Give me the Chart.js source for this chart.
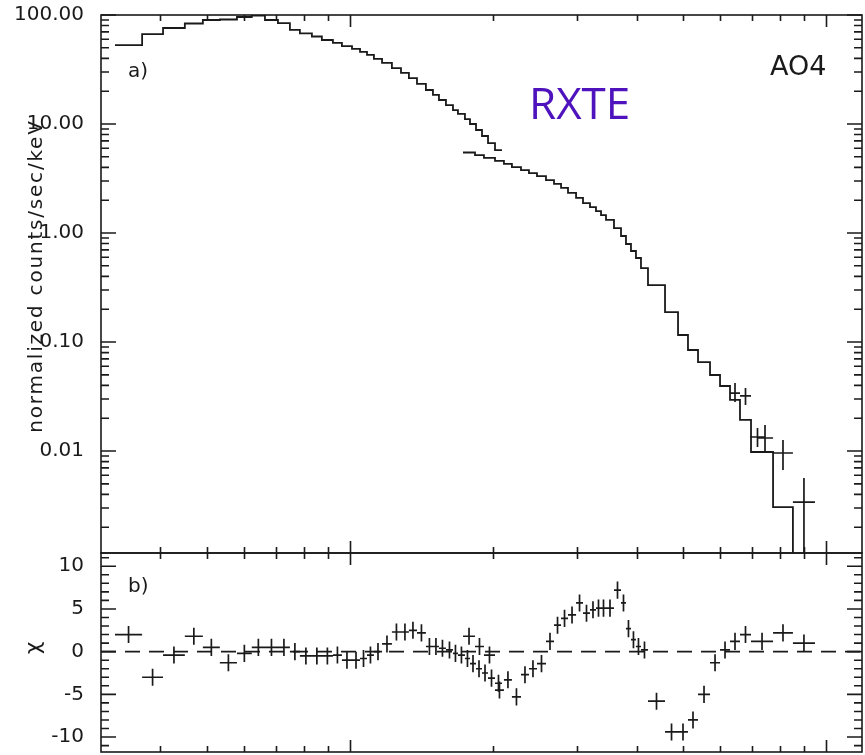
<!DOCTYPE html>
<html>
<head>
<meta charset="utf-8">
<script src="https://cdn.jsdelivr.net/npm/chart.js@4.4.1/dist/chart.umd.min.js"></script>
<style>
  html, body { margin: 0; padding: 0; background: #fff; }
  #wrap { position: relative; width: 865px; height: 755px; overflow: hidden; }
  #wrap canvas { position: absolute; left: 0; }
  #spectrum { top: 0; }
  #resid { top: 545px; }
</style>
</head>
<body>
<div id="wrap">
  <canvas id="spectrum" width="865" height="560"></canvas>
  <canvas id="resid" width="865" height="210"></canvas>
</div>
<script>
// PCA folded spectrum: bin edges (keV), normalized counts/s/keV, residuals (chi)
const pcaEdges = [3.21, 3.66, 4.05, 4.50, 4.91, 5.33, 5.79, 6.22, 6.63, 7.06,
  7.48, 7.85, 8.32, 8.73, 9.21, 9.62, 10.10, 10.50, 10.86, 11.23,
  11.68, 12.25, 12.80, 13.30, 13.83, 14.44, 14.94, 15.38, 15.91, 16.46,
  16.86, 17.44, 17.87, 18.40, 18.94, 19.50, 20.17, 20.86];
const pcaCounts = [53.0, 66.9, 76.0, 83.6, 90.0, 90.9, 95.9, 99.0, 90.0, 84.4,
  72.9, 67.7, 63.5, 59.0, 55.4, 51.9, 48.8, 45.8, 43.0, 39.5,
  36.3, 32.6, 29.4, 26.4, 23.3, 20.5, 18.5, 16.6, 14.9, 13.4,
  12.4, 11.1, 10.0, 8.81, 7.76, 6.69, 5.77];
const pcaChi = [2.0, -3.0, -0.4, 1.8, 0.5, -1.3, -0.2, 0.5, 0.5, 0.5,
  0.0, -0.5, -0.5, -0.5, -0.4, -1.0, -1.0, -0.8, -0.4, 0.0,
  0.9, 2.3, 2.3, 2.5, 2.2, 0.6, 0.6, 0.4, 0.2, -0.2,
  -0.4, -0.8, -1.4, -2.0, -2.5, -3.1, -3.7];

// HEXTE folded spectrum
const hexteEdges = [17.28, 18.31, 19.12, 20.17, 21.06, 21.89, 22.87, 23.77, 24.71, 25.81,
  26.83, 27.76, 28.71, 29.85, 30.87, 31.93, 32.87, 33.68, 34.50, 35.86,
  37.10, 38.00, 38.93, 39.88, 40.86, 42.27, 45.90, 48.88, 51.29, 53.84,
  57.06, 59.89, 62.85, 65.96, 69.57, 77.4, 85.2, 94.8];
const hexteCounts = [5.48, 5.19, 4.88, 4.58, 4.30, 4.03, 3.78, 3.55, 3.33, 3.06,
  2.82, 2.59, 2.33, 2.10, 1.88, 1.73, 1.59, 1.46, 1.32, 1.11,
  0.939, 0.793, 0.684, 0.590, 0.477, 0.333, 0.188, 0.116, 0.0845, 0.0655,
  0.0498, 0.0395, 0.0294, 0.0193, 0.0098, 0.00306, 0.0003];
const hexteChi = [1.8, 0.6, -0.4, -4.5, -3.3, -5.3, -2.7, -2.0, -1.4, 1.2,
  3.1, 3.9, 4.3, 5.7, 4.5, 4.9, 5.1, 5.1, 5.1, 7.2,
  5.7, 2.7, 1.4, 0.6, 0.2, -5.8, -9.4, -9.4, -8.0, -5.0,
  -1.3, 0.2, 1.2, 2.0, 1.2, 2.2, 1.0];

// HEXTE data points shown above the model at the high-energy end
const hxLoE = [62.85, 65.96, 69.23, 71.6, 77.4, 85.2];
const hxHiE = [65.96, 69.57, 74.44, 77.4, 85.2, 94.8];
const hxVal = [0.0340, 0.0320, 0.01344, 0.01316, 0.00959, 0.00340];
const hxErrLo = [0.0282, 0.0264, 0.01089, 0.00979, 0.00669, 0.0002];
const hxErrHi = [0.0421, 0.0378, 0.01625, 0.01732, 0.01262, 0.00565];

// axis ticks
const energyMajor = [10, 100];
const energyMinor = [4, 5, 6, 7, 8, 9, 20, 30, 40, 50, 60, 70, 80, 90];
const countMajor = [0.01, 0.1, 1, 10, 100];
const chiMajor = [-10, -5, 0, 5, 10];

const countMinor = [];
[0.001, 0.01, 0.1, 1, 10].forEach(d => {
  for (let m = 2; m <= 9; m++) countMinor.push(d * m);
});
const chiMinor = [];
for (let v = -11; v <= 11; v++) if (v % 5 !== 0) chiMinor.push(v);

const INK = '#1a1a1a';
const FONT = 'DejaVu Sans';

function stepPoints(edges, counts) {
  const pts = counts.map((c, i) => ({ x: edges[i], y: c }));
  pts.push({ x: edges[edges.length - 1], y: counts[counts.length - 1] });
  return pts;
}

function chiCrosses(edges, chi) {
  return chi.map((c, i) => ({
    x: Math.sqrt(edges[i] * edges[i + 1]), y: c,
    xMin: edges[i], xMax: edges[i + 1], yMin: c - 1, yMax: c + 1
  }));
}

const hexteData = hxVal.map((v, i) => ({
  x: Math.sqrt(hxLoE[i] * hxHiE[i]), y: v,
  xMin: hxLoE[i], xMax: hxHiE[i], yMin: hxErrLo[i], yMax: hxErrHi[i]
}));

// box round the plot area with inward ticks on all four sides
const frame = {
  id: 'frame',
  afterDatasetsDraw(chart, args, opts) {
    const { ctx, chartArea: a, scales: { x, y } } = chart;
    ctx.save();
    ctx.strokeStyle = INK;
    ctx.lineWidth = 1.6;
    ctx.strokeRect(a.left, a.top, a.width, a.height);
    ctx.beginPath();
    [[energyMajor, 12], [energyMinor, 6]].forEach(([vals, len]) => {
      vals.forEach(v => {
        const px = Math.round(x.getPixelForValue(v)) + 0.5;
        ctx.moveTo(px, a.top); ctx.lineTo(px, a.top + len);
        ctx.moveTo(px, a.bottom); ctx.lineTo(px, a.bottom - len);
      });
    });
    [[opts.yMajor, 15], [opts.yMinor, 8]].forEach(([vals, len]) => {
      vals.forEach(v => {
        const py = y.getPixelForValue(v);
        if (py < a.top - 1 || py > a.bottom + 1) return;
        ctx.moveTo(a.left, py); ctx.lineTo(a.left + len, py);
        ctx.moveTo(a.right, py); ctx.lineTo(a.right - len, py);
      });
    });
    ctx.stroke();
    ctx.restore();
  }
};

// horizontal (bin width) and vertical (1 sigma) bars
const errorBars = {
  id: 'errorBars',
  afterDatasetsDraw(chart) {
    const { ctx, chartArea: a, scales: { x, y } } = chart;
    ctx.save();
    ctx.beginPath();
    ctx.rect(a.left, a.top, a.width, a.height);
    ctx.clip();
    ctx.strokeStyle = INK;
    ctx.lineWidth = 1.7;
    chart.data.datasets.forEach(ds => {
      if (!ds.errorBars) return;
      ctx.beginPath();
      ds.data.forEach(p => {
        const cx = x.getPixelForValue(p.x), cy = y.getPixelForValue(p.y);
        ctx.moveTo(x.getPixelForValue(p.xMin), cy);
        ctx.lineTo(x.getPixelForValue(p.xMax), cy);
        ctx.moveTo(cx, y.getPixelForValue(p.yMin));
        ctx.lineTo(cx, y.getPixelForValue(p.yMax));
      });
      ctx.stroke();
    });
    ctx.restore();
  }
};

// free text: panel tags, axis titles
const captions = {
  id: 'captions',
  afterDraw(chart, args, opts) {
    const ctx = chart.ctx;
    opts.items.forEach(t => {
      ctx.save();
      ctx.font = t.font;
      ctx.fillStyle = t.color || INK;
      ctx.textAlign = t.align || 'left';
      ctx.textBaseline = 'alphabetic';
      if (t.spacing) ctx.letterSpacing = t.spacing;
      ctx.translate(t.x, t.y);
      if (t.rotate) ctx.rotate(t.rotate);
      ctx.fillText(t.text, 0, 0);
      ctx.restore();
    });
  }
};

const energyAxis = { type: 'logarithmic', display: false, min: 3, max: 119, bounds: 'data' };

function valueAxis(extra) {
  return Object.assign({
    bounds: 'data',
    // fixed label column; no extra room reserved for the end labels
    afterFit: s => { s.width = 101; s.paddingTop = 0; s.paddingBottom = 0; },
    grid: { display: false },
    border: { display: false }
  }, extra);
}

const common = {
  responsive: false,
  animation: false,
  devicePixelRatio: 1,
  events: []
};

const stepStyle = {
  stepped: 'before', borderColor: INK, borderWidth: 1.8,
  pointRadius: 0, fill: false
};

new Chart(document.getElementById('spectrum'), {
  type: 'line',
  data: {
    datasets: [
      Object.assign({ label: 'PCA', data: stepPoints(pcaEdges, pcaCounts) }, stepStyle),
      Object.assign({ label: 'HEXTE', data: stepPoints(hexteEdges, hexteCounts) }, stepStyle),
      { label: 'HEXTE data', data: hexteData, showLine: false, pointRadius: 0, errorBars: true }
    ]
  },
  options: Object.assign({}, common, {
    layout: { padding: { left: 0, top: 15, right: 3, bottom: 7 } },
    scales: {
      x: energyAxis,
      y: valueAxis({
        type: 'logarithmic', min: 0.00116, max: 100,
        afterBuildTicks: s => { s.ticks = countMajor.map(v => ({ value: v })); },
        ticks: { autoSkip: false, padding: 9, color: INK, font: { family: FONT, size: 20 },
          callback: v => Number(v).toFixed(2) }
      })
    },
    plugins: {
      legend: { display: false },
      tooltip: { enabled: false },
      frame: { yMajor: countMajor, yMinor: countMinor },
      captions: {
        items: [
          { text: 'a)', x: 128, y: 77, font: `20px "${FONT}"` },
          { text: 'AO4', x: 770, y: 75, font: `27px "${FONT}"` },
          { text: 'RXTE', x: 529, y: 119, font: '44px "Open Sans"', color: '#4f13bd' },
          { text: 'normalized counts/sec/keV', x: 42, y: 276, align: 'center', spacing: '1.8px',
            rotate: -Math.PI / 2, font: `20px "${FONT}"` }
        ]
      }
    }
  }),
  plugins: [frame, errorBars, captions]
});

new Chart(document.getElementById('resid'), {
  type: 'line',
  data: {
    datasets: [
      { label: 'zero', data: [{ x: 3, y: 0 }, { x: 119, y: 0 }], borderColor: INK,
        borderWidth: 1.6, borderDash: [15, 9], pointRadius: 0 },
      { label: 'PCA', data: chiCrosses(pcaEdges, pcaChi), showLine: false, pointRadius: 0, errorBars: true },
      { label: 'HEXTE', data: chiCrosses(hexteEdges, hexteChi), showLine: false, pointRadius: 0, errorBars: true }
    ]
  },
  options: Object.assign({}, common, {
    layout: { padding: { left: 0, top: 8, right: 3, bottom: 3 } },
    scales: {
      x: energyAxis,
      y: valueAxis({
        type: 'linear', min: -11.75, max: 11.55,
        afterBuildTicks: s => { s.ticks = chiMajor.map(v => ({ value: v })); },
        ticks: { autoSkip: false, padding: 9, color: INK, font: { family: FONT, size: 20 },
          callback: v => String(v) }
      })
    },
    plugins: {
      legend: { display: false },
      tooltip: { enabled: false },
      frame: { yMajor: chiMajor, yMinor: chiMinor },
      captions: {
        items: [
          { text: 'b)', x: 128, y: 47, font: `20px "${FONT}"` },
          { text: 'χ', x: 40, y: 103, align: 'center', rotate: -Math.PI / 2, font: `22px "${FONT}"` }
        ]
      }
    }
  }),
  plugins: [frame, errorBars, captions]
});
</script>
</body>
</html>
